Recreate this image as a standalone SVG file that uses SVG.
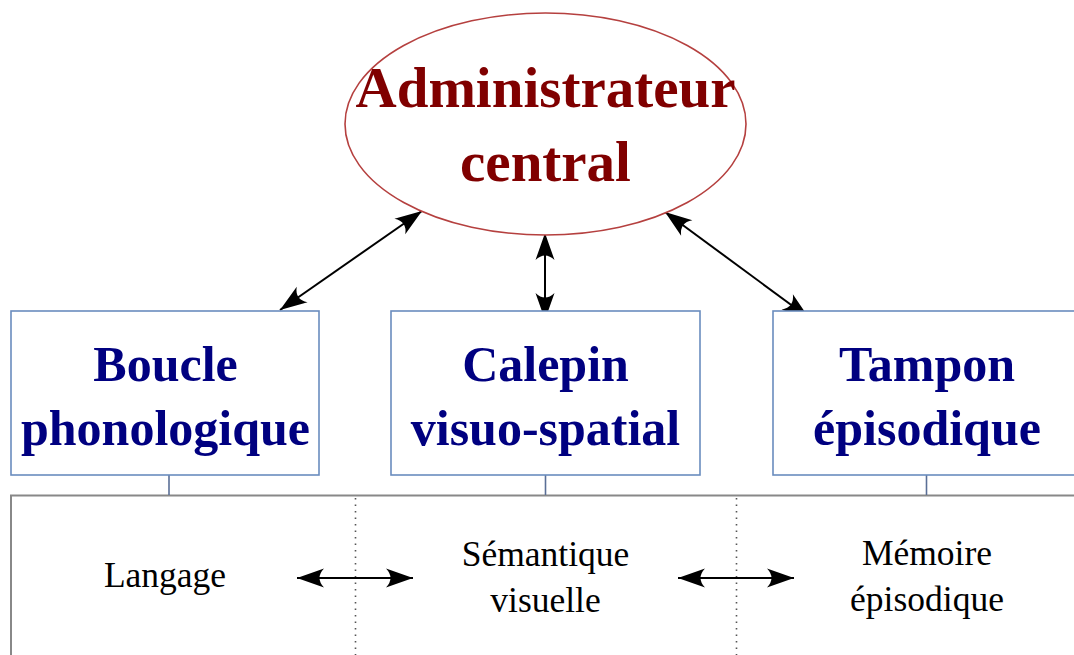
<svg xmlns="http://www.w3.org/2000/svg" width="1074" height="655" viewBox="0 0 1074 655">
<style>
.box{fill:#fff;stroke:#6a8cbe;stroke-width:1.6}
.ell{fill:#fff;stroke:#b5403f;stroke-width:1.6}
.big{font-family:"Liberation Serif",serif;font-weight:bold;text-anchor:middle}
.adm{font-size:57px;fill:#800000}
.mod{font-size:50px;fill:#000080}
.lbl{font-family:"Liberation Serif",serif;font-size:35.5px;fill:#000;text-anchor:middle}
.arr{stroke:#000;stroke-width:2;fill:none;marker-start:url(#ah);marker-end:url(#ah)}
.tick{stroke:#5a6f96;stroke-width:1.6}
.dot{stroke:#555;stroke-width:1.6;stroke-dasharray:1.5 5}
</style>
<defs>
<marker id="ah" markerUnits="userSpaceOnUse" viewBox="-28 -10 30 20" refX="0" refY="0" markerWidth="30" markerHeight="20" orient="auto-start-reverse" overflow="visible">
<path d="M0,0 L-27,-9.5 Q-18,0 -27,9.5 Z" fill="#000"/>
</marker>
</defs>
<g id="panel">
<rect x="11" y="495.5" width="1100" height="200" fill="#fff" stroke="#888" stroke-width="2"/>
<line class="dot" x1="355.5" y1="498" x2="355.5" y2="655"/>
<line class="dot" x1="736.5" y1="498" x2="736.5" y2="655"/>
</g>
<g id="connectors">
<line class="tick" x1="169" y1="475" x2="169" y2="495"/>
<line class="tick" x1="545.5" y1="475" x2="545.5" y2="495"/>
<line class="tick" x1="926.5" y1="475" x2="926.5" y2="495"/>
<line class="arr" x1="422" y1="211" x2="280" y2="310"/>
<line class="arr" x1="545" y1="233" x2="545" y2="320"/>
<line class="arr" x1="665" y1="212" x2="809" y2="318"/>
<line class="arr" x1="297" y1="578" x2="413" y2="578"/>
<line class="arr" x1="678" y1="578" x2="794" y2="578"/>
</g>
<g id="admin">
<ellipse class="ell" cx="545.5" cy="124" rx="200.5" ry="111"/>
<text class="big adm" x="545.5" y="107">Administrateur</text>
<text class="big adm" x="545.5" y="181">central</text>
</g>
<g id="boucle">
<rect class="box" x="11" y="311" width="308" height="164"/>
<text class="big mod" x="165.5" y="381">Boucle</text>
<text class="big mod" x="165.5" y="445">phonologique</text>
</g>
<g id="calepin">
<rect class="box" x="391" y="311" width="309" height="164"/>
<text class="big mod" x="545.5" y="381">Calepin</text>
<text class="big mod" x="545.5" y="445">visuo-spatial</text>
</g>
<g id="tampon">
<rect class="box" x="773" y="311" width="308" height="164"/>
<text class="big mod" x="927" y="381">Tampon</text>
<text class="big mod" x="927" y="445">épisodique</text>
</g>
<g id="langage">
<text class="lbl" x="165" y="587">Langage</text>
</g>
<g id="semantique">
<text class="lbl" x="545.5" y="566">Sémantique</text>
<text class="lbl" x="545.5" y="612">visuelle</text>
</g>
<g id="memoire">
<text class="lbl" x="927" y="565">Mémoire</text>
<text class="lbl" x="927" y="611">épisodique</text>
</g>
</svg>
